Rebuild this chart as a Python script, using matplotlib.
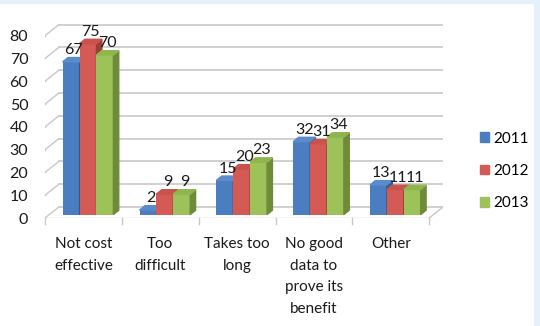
import numpy as np
import matplotlib.pyplot as plt
from matplotlib.patches import Polygon, Patch, Rectangle

plt.rcParams['font.family'] = ['Lato', 'DejaVu Sans']

categories = ['Not cost\neffective', 'Too\ndifficult', 'Takes too\nlong',
              'No good\ndata to\nprove its\nbenefit', 'Other']
years = ['2011', '2012', '2013']
v2011 = [67, 2, 15, 32, 13]
v2012 = [75, 9, 20, 31, 11]
v2013 = [70, 9, 23, 34, 11]
series = [v2011, v2012, v2013]

front_cols = ['#4A7EC1', '#D45A55', '#9DC25A']
side_cols = ['#335A8F', '#9E3C38', '#6E8B3A']
top_cols = ['#5A8BCB', '#C9524D', '#8FB54F']
yticks = list(range(0, 81, 10))

# depth of the back wall (data units) and bar depth
wall_dx, wall_dy = 0.18, 4.8
bar_sx, bar_sy = 0.07, 1.9
shift_x, shift_y = 0.06, 1.5
w = 0.22

fig = plt.figure(figsize=(5.4, 3.26), dpi=100)
fig.patches.append(Rectangle((534 / 540, 0), 6 / 540, 1, transform=fig.transFigure,
                             color='#E6F0F9', zorder=0))
fig.patches.append(Rectangle((0, 1 - 3 / 326), 1, 3 / 326, transform=fig.transFigure,
                             color='#E6F0F9', zorder=0))
ax = fig.add_axes([45 / 540, 108 / 326, 398 / 540, 200.6 / 326])
ax.set_xlim(-0.5, 4.5 + wall_dx)
ax.set_ylim(0, 88)
for s in ax.spines.values():
    s.set_visible(False)

gc = '#C8C8C8'
# back wall gridlines + left wall diagonals
for v in yticks:
    ax.plot([-0.5 + wall_dx, 4.5 + wall_dx], [v + wall_dy, v + wall_dy], color=gc, lw=1.2, zorder=1)
    ax.plot([-0.5, -0.5 + wall_dx], [v, v + wall_dy], color=gc, lw=1.0, zorder=1)
    ax.plot([-0.55, -0.5], [v, v], color=gc, lw=1.0, zorder=1)
# floor front edge, right edge, ticks
ax.plot([-0.5, 4.5], [0, 0], color=gc, lw=1.0, zorder=1)
ax.plot([4.5, 4.5 + wall_dx], [0, wall_dy], color=gc, lw=1.0, zorder=1)
for b in np.arange(-0.5, 5, 1.0):
    ax.plot([b, b], [0, -2.5], color=gc, lw=1.0, zorder=1, clip_on=False)

x = np.arange(len(categories))
for i in range(len(categories)):
    for k, vals in enumerate(series):
        x0 = x[i] + (k - 1.5) * w + shift_x
        b = shift_y
        t = vals[i] + shift_y
        z = 3 + i * 0.1 + k * 0.01
        ax.bar(x0, vals[i], width=w, bottom=b, align='edge', color=front_cols[k], zorder=z)
        ax.add_patch(Polygon([(x0 + w, b), (x0 + w + bar_sx, b + bar_sy),
                              (x0 + w + bar_sx, t + bar_sy), (x0 + w, t)],
                             closed=True, color=side_cols[k], zorder=z))
        ax.add_patch(Polygon([(x0, t), (x0 + bar_sx, t + bar_sy),
                              (x0 + w + bar_sx, t + bar_sy), (x0 + w, t)],
                             closed=True, color=top_cols[k], zorder=z))
        ax.text(x0 + w / 2 + bar_sx / 2, t + bar_sy + 0.2, str(vals[i]),
                ha='center', va='bottom', fontsize=11.5, color='#1a1a1a', zorder=10)

ax.set_yticks(yticks)
ax.set_yticklabels([str(v) for v in yticks], fontsize=11.5, color='#1a1a1a')
ax.set_xticks(x)
ax.set_xticklabels(categories, fontsize=11, color='#1a1a1a', linespacing=1.68, va='top')
ax.tick_params(axis='y', length=0, pad=12)
ax.tick_params(axis='x', length=0, pad=14)

handles = [Patch(color=c, label=y) for c, y in zip(front_cols, years)]
fig.legend(handles=handles, loc='upper left', bbox_to_anchor=(472 / 540, 1 - 124 / 326),
           frameon=False, fontsize=11, handlelength=0.6, handleheight=0.6,
           handletextpad=0.3, labelspacing=1.2, borderpad=0)

fig.savefig('out.png', dpi=100)
